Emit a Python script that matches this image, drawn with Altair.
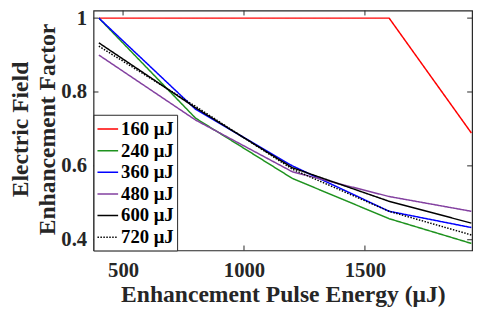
import altair as alt
import pandas as pd

energies = [400, 800, 1200, 1600, 1940]
series_names = ["160 μJ", "240 μJ", "360 μJ", "480 μJ", "600 μJ", "720 μJ"]
s160 = [1.0, 1.0, 1.0, 1.0, 0.689]
s240 = [1.0, 0.729, 0.566, 0.457, 0.390]
s360 = [1.0, 0.753, 0.600, 0.477, 0.433]
s480 = [0.900, 0.724, 0.584, 0.517, 0.477]
s600 = [0.933, 0.757, 0.595, 0.504, 0.445]
s720 = [0.924, 0.761, 0.591, 0.477, 0.413]
series_values = [s160, s240, s360, s480, s600, s720]
colors = ["#ff0000", "#1e921e", "#0000ff", "#8340a0", "#000000", "#000000"]
dashes = [[1, 0], [1, 0], [1, 0], [1, 0], [1, 0], [1.5, 1.5]]
x_ticks = [500, 1000, 1500]
y_ticks = [0.4, 0.6, 0.8, 1.0]

rows = []
for name, vals in zip(series_names, series_values):
    for e, v in zip(energies, vals):
        rows.append({"energy": e, "factor": v, "series": name})
df = pd.DataFrame(rows)

W, H = 385, 244
FONT = "Liberation Serif"
TXT = "#262626"

xscale = alt.Scale(domain=[378, 1943], nice=False, zero=False)
yscale = alt.Scale(domain=[0.371, 1.0205], nice=False, zero=False)

x_axis = alt.Axis(values=x_ticks, format="d", title="Enhancement Pulse Energy (μJ)",
                  titleY=52, titleBaseline="alphabetic", labelPadding=9)
y_axis = alt.Axis(values=y_ticks, format=".1~f",
                  title=["Electric Field", "Enhancement Factor"],
                  titleAngle=270, titleX=-74, titleY=120.5,
                  titleBaseline="middle", titleAlign="center",
                  titleLineHeight=27, labelPadding=7)

lines = alt.Chart(df).mark_line(strokeWidth=1.5, clip=True).encode(
    x=alt.X("energy:Q", scale=xscale, axis=x_axis),
    y=alt.Y("factor:Q", scale=yscale, axis=y_axis),
    color=alt.Color("series:N", scale=alt.Scale(domain=series_names, range=colors),
                    sort=series_names, title=None),
    strokeDash=alt.StrokeDash("series:N", scale=alt.Scale(domain=series_names, range=dashes),
                              sort=series_names, title=None),
)

xt = pd.DataFrame({"v": x_ticks})
yt = pd.DataFrame({"v": y_ticks})
tick_color = "#262626"
xb = alt.Chart(xt).mark_rule(color=tick_color, strokeWidth=1).encode(
    x=alt.X("v:Q", scale=xscale, axis=x_axis), y=alt.value(H), y2=alt.value(H - 5))
xtop = alt.Chart(xt).mark_rule(color=tick_color, strokeWidth=1).encode(
    x=alt.X("v:Q", scale=xscale, axis=x_axis), y=alt.value(0), y2=alt.value(5))
yl = alt.Chart(yt).mark_rule(color=tick_color, strokeWidth=1).encode(
    y=alt.Y("v:Q", scale=yscale, axis=y_axis), x=alt.value(0), x2=alt.value(5))
yr = alt.Chart(yt).mark_rule(color=tick_color, strokeWidth=1).encode(
    y=alt.Y("v:Q", scale=yscale, axis=y_axis), x=alt.value(W - 5), x2=alt.value(W))

chart = alt.layer(lines, xb, xtop, yl, yr).properties(
    width=W, height=H,
    autosize=alt.AutoSizeParams(type="none"),
    padding={"left": 87, "top": 0, "right": 5, "bottom": 59},
).configure_view(
    stroke=TXT, strokeWidth=1.2
).configure_axis(
    grid=False, domain=False, ticks=False,
    labelFont=FONT, labelFontSize=21, labelFontWeight="bold", labelColor=TXT,
    titleFont=FONT, titleFontSize=24, titleFontWeight="bold", titleColor=TXT,
).configure_legend(
    orient="none", legendX=0, legendY=106,
    strokeColor=TXT, fillColor="white", padding=3,
    labelFont=FONT, labelFontSize=19, labelFontWeight="bold", labelColor="#000000",
    symbolType="stroke", symbolSize=441, symbolStrokeWidth=1.5,
    rowPadding=0, labelOffset=2, cornerRadius=0,
)

chart.save("out.html", embed_options={"renderer": "svg", "actions": False})
